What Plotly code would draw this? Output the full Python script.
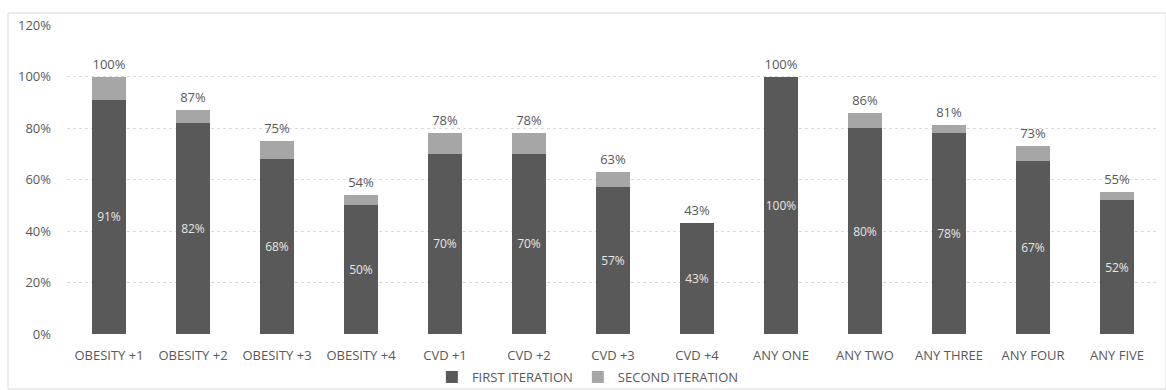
import plotly.graph_objects as go

categories = ["OBESITY +1", "OBESITY +2", "OBESITY +3", "OBESITY +4",
              "CVD +1", "CVD +2", "CVD +3", "CVD +4",
              "ANY ONE", "ANY TWO", "ANY THREE", "ANY FOUR", "ANY FIVE"]
first_iteration = [91, 82, 68, 50, 70, 70, 57, 43, 100, 80, 78, 67, 52]
total_after_second = [100, 87, 75, 54, 78, 78, 63, 43, 100, 86, 81, 73, 55]
second_iteration = [t - f for t, f in zip(total_after_second, first_iteration)]

FONT = "Open Sans"
GREY_TEXT = "#595959"

fig = go.Figure()
fig.add_trace(go.Bar(
    x=categories, y=first_iteration, name="FIRST ITERATION",
    marker=dict(color="#595959", line=dict(width=0)),
    text=[f"{v}%" for v in first_iteration], textposition="inside",
    insidetextanchor="middle", textangle=0, constraintext="none",
    textfont=dict(family=FONT, size=12, color="#e6e6e6"),
    hoverinfo="skip",
))
fig.add_trace(go.Bar(
    x=categories, y=second_iteration, name="SECOND ITERATION",
    marker=dict(color="#a6a6a6", line=dict(width=0)),
    hoverinfo="skip",
))
# Totals above each stack; the transparent marker lifts the text slightly
fig.add_trace(go.Scatter(
    x=categories, y=total_after_second, mode="markers+text",
    marker=dict(size=6, color="rgba(0,0,0,0)"),
    text=[f"{v}%" for v in total_after_second], textposition="top center",
    textfont=dict(family=FONT, size=13, color=GREY_TEXT),
    showlegend=False, hoverinfo="skip",
))

plot_w = 1166 - 67 - 7
plot_h = 390 - 25 - 56
fig.add_shape(type="rect", xref="paper", yref="paper",
              x0=(8 - 67) / plot_w, x1=(1166 - 67) / plot_w,
              y0=-(389 - 334) / plot_h, y1=1 + 12 / plot_h,
              line=dict(color="#d9d9d9", width=1), layer="below")

fig.update_layout(
    width=1166, height=390,
    margin=dict(l=67, r=7, t=25, b=56),
    paper_bgcolor="white", plot_bgcolor="white",
    barmode="stack", bargap=0.6,
    font=dict(family=FONT, size=12, color=GREY_TEXT),
    legend=dict(orientation="h", x=0.477, xanchor="center",
                yref="container", y=(390 - 377) / 390, yanchor="middle",
                traceorder="normal", bgcolor="rgba(0,0,0,0)",
                font=dict(family=FONT, size=13, color=GREY_TEXT),
                itemwidth=30, tracegroupgap=0),
    showlegend=True,
    xaxis=dict(showgrid=False, showline=False, ticks="", automargin=False,
               range=[-0.5, len(categories) - 0.5],
               ticklabelstandoff=12,
               tickfont=dict(family=FONT, size=13, color=GREY_TEXT)),
    yaxis=dict(range=[0, 120], dtick=20, ticksuffix="%", automargin=False,
               showgrid=True, gridcolor="#d9d9d9", griddash="dot", gridwidth=1,
               zeroline=False, showline=False, ticks="",
               ticklabelstandoff=15,
               tickfont=dict(family=FONT, size=13, color=GREY_TEXT)),
)

fig.write_html("out.html")
